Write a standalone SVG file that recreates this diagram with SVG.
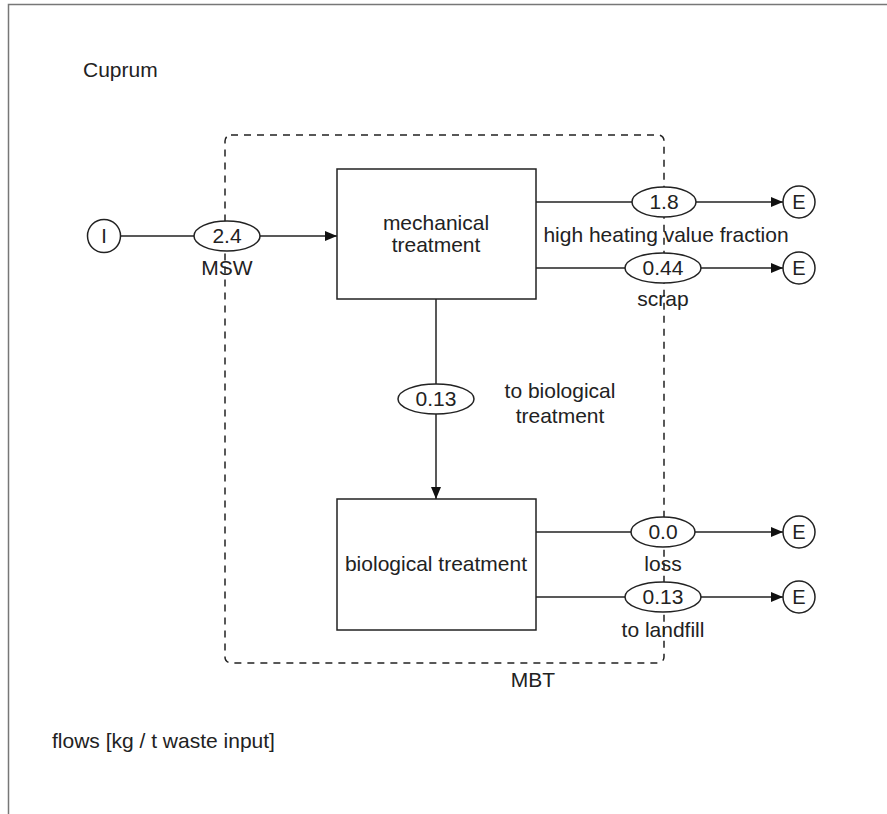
<svg xmlns="http://www.w3.org/2000/svg" width="887" height="814" viewBox="0 0 887 814">
<style>
text{font-family:"Liberation Sans",Arial,sans-serif;font-size:21px;fill:#222;text-anchor:middle}
.l{text-anchor:start}
.c{font-size:20px}
.ln{stroke:#222;stroke-width:1.5;fill:none}
.box{stroke:#222;stroke-width:1.5;fill:#fff}
.ov{stroke:#222;stroke-width:1.5;fill:#fff}
</style>
<defs>
<marker id="ah" markerWidth="12" markerHeight="10" refX="12" refY="5" orient="auto" markerUnits="userSpaceOnUse">
<path d="M0,0 L12,5 L0,10 Z" fill="#111"/>
</marker>
</defs>
<rect x="0" y="0" width="887" height="814" fill="#fff"/>
<path d="M8.5,814 V4.5 H887" stroke="#777" stroke-width="1.5" fill="none"/>
<text class="l" x="83" y="77">Cuprum</text>
<text class="l" x="52" y="748">flows [kg / t waste input]</text>
<g id="mbt">
<rect x="225" y="135" width="439" height="528" rx="6" fill="none" stroke="#222" stroke-width="1.5" stroke-dasharray="7,6"/>
<text x="533" y="687">MBT</text>
</g>
<g id="connectors">
<line class="ln" x1="121" y1="236" x2="337" y2="236" marker-end="url(#ah)"/>
<line class="ln" x1="536" y1="202" x2="783" y2="202" marker-end="url(#ah)"/>
<line class="ln" x1="536" y1="268" x2="783" y2="268" marker-end="url(#ah)"/>
<line class="ln" x1="436" y1="299" x2="436" y2="499" marker-end="url(#ah)"/>
<line class="ln" x1="536" y1="532" x2="783" y2="532" marker-end="url(#ah)"/>
<line class="ln" x1="536" y1="597" x2="783" y2="597" marker-end="url(#ah)"/>
</g>
<g id="flow-msw">
<ellipse class="ov" cx="227" cy="236" rx="33" ry="15"/>
<text x="227" y="243">2.4</text>
<text x="227" y="275">MSW</text>
</g>
<g id="flow-hhv">
<ellipse class="ov" cx="664" cy="202" rx="32" ry="15"/>
<text x="664" y="209">1.8</text>
<text x="666" y="242">high heating value fraction</text>
</g>
<g id="flow-scrap">
<ellipse class="ov" cx="663" cy="268" rx="38" ry="15"/>
<text x="663" y="275">0.44</text>
<text x="663" y="306">scrap</text>
</g>
<g id="flow-bio">
<ellipse class="ov" cx="436" cy="399" rx="38" ry="15"/>
<text x="436" y="406">0.13</text>
<text x="560" y="398">to biological</text>
<text x="560" y="423">treatment</text>
</g>
<g id="flow-loss">
<ellipse class="ov" cx="663" cy="532" rx="32" ry="15"/>
<text x="663" y="539">0.0</text>
<text x="663" y="571">loss</text>
</g>
<g id="flow-landfill">
<ellipse class="ov" cx="663" cy="597" rx="38" ry="15"/>
<text x="663" y="604">0.13</text>
<text x="663" y="637">to landfill</text>
</g>
<g id="input">
<circle class="ov" cx="104" cy="236" r="16.5"/>
<text class="c" x="104" y="243">I</text>
</g>
<g id="mechanical">
<rect class="box" x="337" y="169" width="199" height="130"/>
<text x="436" y="230">mechanical</text>
<text x="436" y="252">treatment</text>
</g>
<g id="biological">
<rect class="box" x="337" y="499" width="199" height="131"/>
<text x="436" y="571">biological treatment</text>
</g>
<g id="e1"><circle class="ov" cx="799" cy="202" r="16"/><text class="c" x="799" y="209">E</text></g>
<g id="e2"><circle class="ov" cx="799" cy="268" r="16"/><text class="c" x="799" y="275">E</text></g>
<g id="e3"><circle class="ov" cx="799" cy="532" r="16"/><text class="c" x="799" y="539">E</text></g>
<g id="e4"><circle class="ov" cx="799" cy="597" r="16"/><text class="c" x="799" y="604">E</text></g>
</svg>
